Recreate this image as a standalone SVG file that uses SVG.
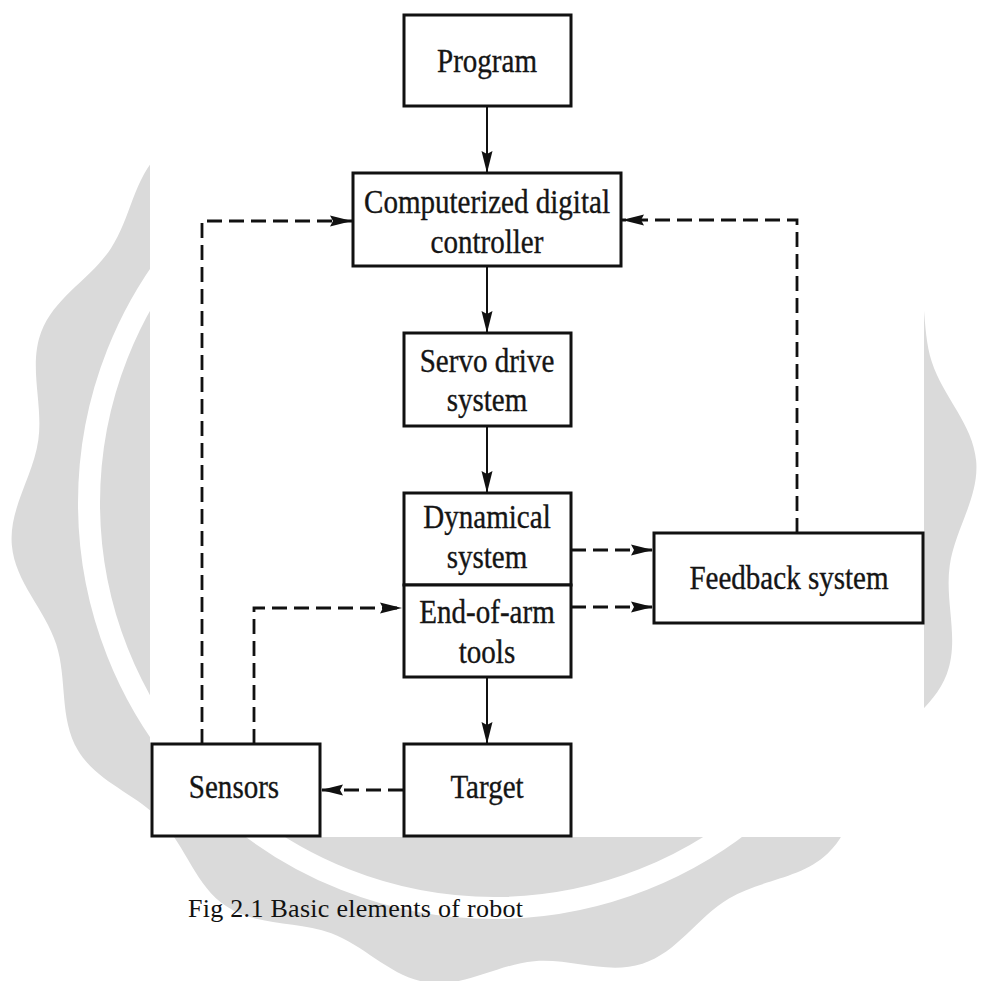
<svg xmlns="http://www.w3.org/2000/svg" width="981" height="981" viewBox="0 0 981 981">
<style>
  .box { fill: #ffffff; stroke: #111111; stroke-width: 3; }
  .lbl { font-family: "Liberation Serif", "Times New Roman", serif; font-size: 33px; fill: #151515; stroke: #151515; stroke-width: 0.35; text-anchor: middle; }
  .solid { fill: none; stroke: #111111; stroke-width: 2; marker-end: url(#arrow); }
  .dash { fill: none; stroke: #111111; stroke-width: 2.8; stroke-dasharray: 15 7; marker-end: url(#arrow); }
  .cap { font-family: "Liberation Serif", "Times New Roman", serif; font-size: 26px; fill: #111111; }
</style>
<defs>
  <marker id="arrow" markerUnits="userSpaceOnUse" markerWidth="24" markerHeight="14" refX="22" refY="6" orient="auto">
    <path d="M0,0.5 L22,6 L0,11.5 L3,6 Z" fill="#111111"/>
  </marker>
</defs>
<rect x="0" y="0" width="981" height="981" fill="#ffffff"/>
<g id="watermark">
  <path fill="#dadada" d="M11.84,545.19 C8.62,508.33 33.26,476.77 38.32,440.12 C43.38,403.47 28.19,366.44 41.28,331.83 C54.37,297.22 90.24,279.49 110.7,248.66 C131.16,217.83 133.49,177.95 160.29,152.44 C187.09,126.93 227.22,126.44 259.03,107.54 C290.84,88.64 310.37,53.66 345.59,42.31 C380.81,30.96 417.05,47.97 453.91,44.75 C490.77,41.53 523.51,18.48 560.16,23.54 C596.81,28.6 622.07,59.64 656.68,72.73 C691.29,85.82 730.78,79.24 761.61,99.7 C792.44,120.16 801.66,159.03 827.17,185.83 C852.68,212.63 891.19,223.96 910.09,255.77 C928.99,287.58 920.49,326.73 931.84,361.95 C943.19,397.17 972.94,423.95 976.16,460.81 C979.38,497.67 954.74,529.23 949.68,565.88 C944.62,602.53 959.81,639.56 946.72,674.17 C933.63,708.78 897.76,726.51 877.3,757.34 C856.84,788.17 854.51,828.05 827.71,853.56 C800.91,879.07 760.78,879.56 728.97,898.46 C697.16,917.36 677.63,952.34 642.41,963.69 C607.19,975.04 570.95,958.03 534.09,961.25 C497.23,964.47 464.49,987.52 427.84,982.46 C391.19,977.4 365.93,946.36 331.32,933.27 C296.71,920.18 257.22,926.76 226.39,906.3 C195.56,885.84 186.34,846.97 160.83,820.17 C135.32,793.37 96.81,782.04 77.91,750.23 C59.01,718.42 67.51,679.27 56.16,644.05 C44.81,608.83 15.06,582.05 11.84,545.19 Z"/>
  <circle cx="494" cy="503" r="405" fill="none" stroke="#ffffff" stroke-width="22"/>
  <rect x="150" y="0" width="774" height="837" fill="#ffffff"/>
</g>
<g id="connectors">
  <path class="solid" d="M487,106 L487,173"/>
  <path class="solid" d="M487,266 L487,333"/>
  <path class="solid" d="M487,426 L487,493"/>
  <path class="solid" d="M487,677 L487,744"/>
  <path class="dash" d="M202,744 L202,221 L352,221"/>
  <path class="dash" d="M254,744 L254,608 L402,608"/>
  <path class="dash" d="M797,533 L797,220 L622,220"/>
  <path class="dash" d="M571,550 L653,550"/>
  <path class="dash" d="M571,607 L653,607"/>
  <path class="dash" d="M403,790 L321,790"/>
</g>
<g id="program">
  <rect class="box" x="404" y="15" width="167" height="91"/>
  <text class="lbl" transform="translate(487,72) scale(0.88,1)">Program</text>
</g>
<g id="controller">
  <rect class="box" x="353" y="173" width="268" height="93"/>
  <text class="lbl" transform="translate(487,213) scale(0.88,1)">Computerized digital</text>
  <text class="lbl" transform="translate(487,253) scale(0.88,1)">controller</text>
</g>
<g id="servo">
  <rect class="box" x="404" y="333" width="167" height="93"/>
  <text class="lbl" transform="translate(487,372) scale(0.88,1)">Servo drive</text>
  <text class="lbl" transform="translate(487,411) scale(0.88,1)">system</text>
</g>
<g id="dynamical">
  <rect class="box" x="404" y="493" width="167" height="92"/>
  <text class="lbl" transform="translate(487,528) scale(0.88,1)">Dynamical</text>
  <text class="lbl" transform="translate(487,568) scale(0.88,1)">system</text>
</g>
<g id="endofarm">
  <rect class="box" x="404" y="585" width="167" height="92"/>
  <text class="lbl" transform="translate(487,623) scale(0.88,1)">End-of-arm</text>
  <text class="lbl" transform="translate(487,663) scale(0.88,1)">tools</text>
</g>
<g id="feedback">
  <rect class="box" x="654" y="533" width="269" height="90"/>
  <text class="lbl" transform="translate(789,589) scale(0.88,1)">Feedback system</text>
</g>
<g id="target">
  <rect class="box" x="404" y="744" width="167" height="92"/>
  <text class="lbl" transform="translate(487,798) scale(0.88,1)">Target</text>
</g>
<g id="sensors">
  <rect class="box" x="152" y="744" width="168" height="92"/>
  <text class="lbl" transform="translate(234,798) scale(0.88,1)">Sensors</text>
</g>
<g id="caption">
  <text class="cap" x="188" y="917" textLength="335">Fig 2.1 Basic elements of robot</text>
</g>
</svg>
